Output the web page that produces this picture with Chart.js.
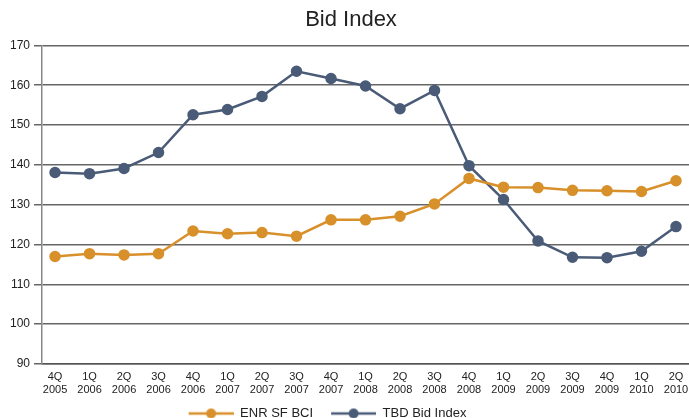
<!DOCTYPE html>
<html>
<head>
<meta charset="utf-8">
<script src="https://cdn.jsdelivr.net/npm/chart.js@4"></script>
<style>
html,body{margin:0;padding:0;background:#fff;overflow:hidden;}
#wrap{width:689px;height:418px;position:relative;overflow:hidden;}
</style>
</head>
<body>
<div id="wrap"><canvas id="c" width="696" height="418"></canvas></div>
<script>
const categories = [
  ["4Q","2005"],["1Q","2006"],["2Q","2006"],["3Q","2006"],["4Q","2006"],
  ["1Q","2007"],["2Q","2007"],["3Q","2007"],["4Q","2007"],
  ["1Q","2008"],["2Q","2008"],["3Q","2008"],["4Q","2008"],
  ["1Q","2009"],["2Q","2009"],["3Q","2009"],["4Q","2009"],
  ["1Q","2010"],["2Q","2010"]
];
const enrSfBci = [117.0,117.7,117.4,117.7,123.4,122.7,123.0,122.1,126.2,126.2,127.1,130.2,136.6,134.4,134.3,133.6,133.5,133.3,136.0];
const tbdBidIndex = [138.1,137.8,139.1,143.1,152.6,153.9,157.2,163.5,161.7,159.8,154.1,158.7,139.8,131.3,120.9,116.8,116.7,118.3,124.5];
const yTicks = [90,100,110,120,130,140,150,160,170];

const ORANGE = '#D8902A';
const BLUE = '#4A5B78';
const FONT = "'Liberation Sans', Arial, sans-serif";

function marker(color){
  const cv = document.createElement('canvas');
  cv.width = 52; cv.height = 12;
  const g = cv.getContext('2d');
  g.strokeStyle = color; g.lineWidth = 2.5;
  g.beginPath(); g.moveTo(7,6); g.lineTo(52,6); g.stroke();
  g.fillStyle = color;
  g.beginPath(); g.arc(29.5,6,5,0,Math.PI*2); g.fill();
  return cv;
}
const mkO = marker(ORANGE), mkB = marker(BLUE);

const toXY = arr => arr.map((v,i)=>({x:i,y:v}));

const shiftLegend = {
  id: 'shiftLegend',
  afterLayout(chart){
    const lg = chart.legend;
    if (lg) { lg.left -= 27; lg.right -= 27; }
  }
};

new Chart(document.getElementById('c'), {
  type: 'line',
  plugins: [shiftLegend],
  data: {
    datasets: [
      {label:'ENR SF BCI', data: toXY(enrSfBci), borderColor: ORANGE, backgroundColor: ORANGE,
       borderWidth: 2.5, pointRadius: 4.5, pointHoverRadius: 4.5, tension: 0, pointStyle: 'circle'},
      {label:'TBD Bid Index', data: toXY(tbdBidIndex), borderColor: BLUE, backgroundColor: BLUE,
       borderWidth: 2.5, pointRadius: 4.5, pointHoverRadius: 4.5, tension: 0, pointStyle: 'circle'}
    ]
  },
  options: {
    responsive: false,
    animation: false,
    events: [],
    layout: {padding: {left: 6, right: 0, top: 0, bottom: -12}},
    plugins: {
      title: {display: true, text: 'Bid Index', color: '#222',
        font: {family: FONT, size: 22, weight: 'normal'},
        padding: {top: 7, bottom: 12}},
      legend: {position: 'bottom',
        labels: {usePointStyle: true, pointStyleWidth: 52, boxHeight: 12,
          color: '#222', padding: 11,
          font: {family: FONT, size: 13},
          generateLabels: (chart) => chart.data.datasets.map((d,i)=>({
            text: d.label, pointStyle: i===0 ? mkO : mkB, fillStyle: d.borderColor,
            strokeStyle: d.borderColor, lineWidth: 0, hidden: false, datasetIndex: i, fontColor: '#222'
          }))
        }},
      tooltip: {enabled: false}
    },
    scales: {
      x: {
        type: 'linear', min: -0.377, max: 18.377,
        afterBuildTicks: (s) => { s.ticks = categories.map((c,i)=>({value:i})); },
        afterFit: (s) => { s.height = 32; },
        grid: {display: false, drawTicks: false},
        border: {display: true, color: '#555', width: 1.5},
        ticks: {autoSkip: false, maxRotation: 0, padding: 6, color: '#222',
          font: {family: FONT, size: 11, lineHeight: 1.18},
          callback: (v) => categories[Math.round(v)]}
      },
      y: {
        min: 90, max: 170,
        afterBuildTicks: (s) => { s.ticks = yTicks.map(v=>({value:v})); },
        grid: {color: '#666', lineWidth: 1.5, tickLength: 8, drawTicks: true},
        border: {display: true, color: '#888', width: 1.5},
        ticks: {padding: 4, color: '#222',
          font: {family: FONT, size: 12}}
      }
    }
  }
});
</script>
</body>
</html>
